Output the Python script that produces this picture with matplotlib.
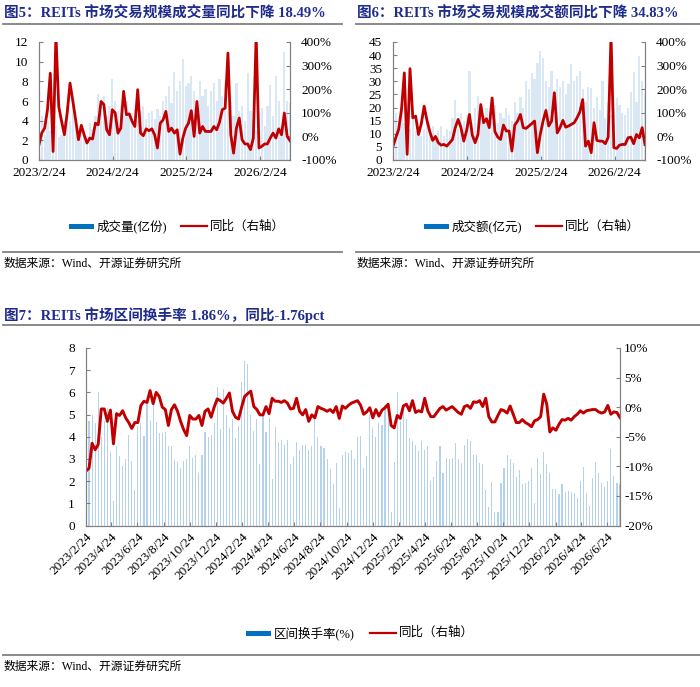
import numpy as np
import pandas as pd
import matplotlib
matplotlib.use("Agg")
import matplotlib.pyplot as plt
from matplotlib.lines import Line2D
from matplotlib.patches import Rectangle
from matplotlib.ticker import FuncFormatter

plt.rcParams['font.family'] = ['Liberation Serif', 'Noto Sans CJK SC']
plt.rcParams['axes.unicode_minus'] = False

# ---- 数据 ----
# 图5 成交量(亿份), 双周
vol_bar = [3.0, 4.5, 2.5, 4.0, 3.0, 2.0, 3.5, 2.3, 2.5, 4.0,
           5.5, 4.0, 6.0, 3.5, 2.5, 3.5, 3.0, 2.0, 3.8, 3.2,
           4.5, 6.7, 5.0, 6.5, 4.5, 5.5, 8.2, 6.0, 5.0, 5.5,
           4.5, 6.0, 5.0, 4.8, 5.2, 4.0, 5.0, 5.5, 4.2, 4.8,
           5.0, 4.2, 5.2, 4.5, 6.0, 6.5, 7.5, 5.8, 9.0, 7.0,
           8.0, 10.3, 7.5, 7.8, 8.5, 7.0, 6.0, 8.0, 6.5, 7.2,
           5.5, 7.0, 7.8, 6.0, 8.2, 6.5, 7.8, 5.0, 6.0, 4.5,
           7.8, 5.0, 5.5, 4.0, 8.8, 5.0, 4.2, 3.0, 4.8, 5.3,
           3.5, 5.5, 7.6, 4.5, 8.5, 6.0, 3.5, 11.0, 6.0, 5.8]
vol_yoy = [-35, 15, 35, 113, 268, -64, 430, 127, 64, 7,
           100, 226, 150, 70, -14, 47, 7, -28, -7, -11,
           56, 49, 148, 135, 28, 7, 113, 100, 14, 35,
           191, 92, 95, 64, 42, 198, 14, 3, 32, 24,
           32, 7, -49, 56, 70, 106, 21, 35, 14, 28,
           -75, -7, 35, 56, 109, 0, 148, 14, 42, 21,
           21, 21, 42, 28, 60, 113, 120, 353, 7, -71,
           35, 78, -14, -32, -32, -56, -7, 430, -49, -42,
           -32, -32, -7, 14, -7, 32, 7, 99, 0, -18.49]

# 图6 成交额(亿元), 双周
amt_bar = [15, 18, 12, 20, 14, 10, 12, 16, 11, 13,
           9, 12, 14, 10, 13, 8, 11, 13, 9, 12,
           11, 16, 23, 12, 18, 15, 17, 34, 14, 20,
           24.4, 18, 17, 20, 15, 19, 21, 14, 18, 16,
           20, 17, 15, 22, 18, 24, 20, 30, 27, 33,
           31, 37, 41.5, 39, 30, 28, 34, 26, 31, 28,
           30, 25, 29, 36.5, 30, 32, 34, 27, 22, 28,
           27.6, 20, 24, 19, 30, 16, 22, 17, 20, 23.7,
           21, 18, 17, 20, 26, 33.7, 22, 39.5, 30, 25]
amt_yoy = [-41, -5, 30, 114, 269, -76, 287, 79, 86, 8,
           54, 128, 68, 20, -17, 0, -27, -37, -34, -41,
           -27, -13, 37, 72, 37, -20, 25, 93, 6, -27,
           8, 135, 58, 75, 37, 163, 20, -3, -13, 48,
           23, 23, -62, 48, 65, 93, 37, 34, 44, 54,
           65, -69, 8, 65, 110, 44, 65, 185, 15, 37,
           68, 39, 44, 51, 58, 79, 104, 156, -41, -20,
           -69, 58, -17, -20, -20, -31, -3, 430, -48, -51,
           -37, -34, -34, -6, -3, -31, 8, -6, 37, -34.83]

# 图7 区间换手率(%), 周度
turn_bar = [5.2, 4.7, 5.0, 4.6, 6.0, 4.0, 4.7, 5.3, 3.3, 1.1,
            3.6, 3.15, 2.7, 3.0, 4.1, 2.9, 1.6, 4.5, 4.6, 4.05,
            5.6, 4.7, 5.7, 4.65, 4.15, 4.15, 4.2, 3.6, 3.6, 2.95,
            2.85, 2.6, 2.9, 3.0, 3.6, 3.05, 3.2, 2.35, 3.2, 4.2,
            4.0, 4.1, 4.6, 6.25, 4.35, 6.15, 5.0, 4.4, 4.8, 3.95,
            4.5, 6.45, 7.4, 7.3, 5.0, 4.25, 4.8, 2.75, 5.0, 4.2,
            4.85, 2.1, 4.45, 3.75, 3.85, 3.65, 3.85, 2.75, 3.1, 3.75,
            3.4, 3.65, 3.65, 3.4, 3.6, 4.85, 4.0, 3.6, 3.5, 3.0,
            2.55, 1.85, 2.8, 0.8,
            3.2, 3.3, 3.25, 3.4, 3.0, 4.0, 4.05, 2.6, 3.15, 5.0,
            4.4, 4.0, 4.6, 4.55, 5.45, 5.4, 0.6, 2.85, 6.0, 4.7,
            5.15, 4.8, 3.95, 3.8, 3.65, 3.35, 3.8, 3.4, 3.6, 2.0,
            2.2, 2.9, 3.6, 2.35, 3.05, 3.0, 3.05, 3.7, 3.0, 2.8,
            3.65, 3.9, 3.8, 3.2, 3.2, 2.8, 2.75, 1.6, 0.83, 1.95,
            0.63, 0.63, 1.9, 2.6, 3.2, 3.0, 2.8, 2.2, 2.5, 1.85,
            1.9, 2.0, 2.6, 1.0, 3.05, 2.3, 3.3, 2.75, 2.35, 1.65,
            1.65, 1.4, 1.85, 1.5, 1.55, 1.5, 1.45, 1.25, 2.0, 2.65,
            1.45, 0.86, 2.15, 2.85, 2.35, 1.9, 1.75, 2.0, 3.45, 2.25,
            1.9, 1.86]
turn_yoy = [-10.8, -10.3, -6.1, -7.2, -6.3, -0.3, -0.3, -2.4, -0.5, -6.2,
            -1.1, -1.4, -0.6, -1.8, -2.6, -3.6, -2.6, -2.6, 0.3, 1.0,
            0.8, 2.8, 0.6, 2.5, 1.8, 0.0, -0.4, -3.1, -0.4, 0.4,
            -0.7, -2.4, -3.8, -4.8, -1.4, -2.0, -2.0, -1.4, -3.1, -0.7,
            -0.3, -1.7, 0.0, 1.4, 1.1, 0.7, 1.5, 2.4, -0.7, -1.7,
            -2.0, 0.0, 1.8, 2.3, 2.7, 0.1, -0.4, -1.3, -1.3, 0.1,
            -1.1, 1.5, 1.0, 1.0, 0.8, 1.1, 0.7, -0.3, -0.2, 1.5,
            -0.7, -1.3, -0.4, -2.4, -1.3, -1.8, 0.1, -0.2, -0.4, -0.7,
            -0.4, -0.9,
            0.1, -1.9, 0.2, -0.2, 0.3, 0.7, 0.9, 1.1, 0.3, -1.2,
            -0.8, -0.1, -1.8, -0.4, -1.5, -0.5, -0.1, 0.5, -3.1, -3.5,
            -1.4, -1.9, 0.2, 0.5, -0.6, 1.1, -0.9, -0.6, -0.8, 1.5,
            -0.6, -1.6, -1.6, -0.9, -0.2, 0.1, -0.5, -0.2, 0.1,
            -0.4, -0.9, -1.2, 0.1, 0.3, -0.2, 0.9, 0.8, 1.1, 0.1,
            1.5, -1.6, -2.5, -2.5, -1.4, -0.4, -0.6, -1.0, 0.2, -1.2,
            -2.6, -2.6, -2.1, -2.6, -2.9, -3.3, -2.3, -2.1, -1.6, 2.2,
            0.5, -4.2, -3.5, -3.9, -2.9, -2.1, -2.2, -1.9, -2.2, -1.6,
            -1.2, -0.6, -1.0, -0.6, -0.5, -0.4, -0.4, -0.8, -1.0, -0.8,
            0.3, -1.2, -0.8, -0.9, -1.76]

start, end = '2023-02-24', '2026-07-24'
dates_top = pd.date_range(start, end, periods=len(vol_bar))
dates_turn = pd.date_range(start, end, periods=len(turn_bar))

year_ticks = pd.to_datetime(['2023-02-24', '2024-02-24', '2025-02-24', '2026-02-24'])
year_labels = ['2023/2/24', '2024/2/24', '2025/2/24', '2026/2/24']
month_ticks = [pd.Timestamp(2023, 2, 24) + pd.DateOffset(months=2 * k) for k in range(21)]
month_labels = [f'{d.year}/{d.month}/{d.day}' for d in month_ticks]

titles = ['图5：REITs 市场交易规模成交量同比下降 18.49%',
          '图6：REITs 市场交易规模成交额同比下降 34.83%',
          '图7：REITs 市场区间换手率 1.86%，同比-1.76pct']
source = '数据来源：Wind、开源证券研究所'

# ---- 样式 ----
navy = '#1F2C8C'
red = '#C00000'
blue = '#0070C0'
grey = '#808080'
W, H = 700, 687

fig = plt.figure(figsize=(7, 6.87), dpi=100)


def fx(x):
    return x / W


def fy(y):
    return 1 - y / H


def hline(x0, x1, y, lw=1.3):
    fig.add_artist(Line2D([fx(x0), fx(x1)], [fy(y), fy(y)], transform=fig.transFigure,
                          color=grey, lw=lw))


def legend(x, y, bar_label, x2):
    fig.add_artist(Rectangle((fx(x), fy(y + 2.5)), 25 / W, 5 / H, transform=fig.transFigure,
                             color=blue, lw=0))
    fig.text(fx(x + 28), fy(y), bar_label, fontsize=9, va='center', ha='left')
    fig.add_artist(Line2D([fx(x2), fx(x2 + 26)], [fy(y), fy(y)], transform=fig.transFigure,
                          color=red, lw=1.6))
    fig.text(fx(x2 + 29), fy(y), '同比（右轴）', fontsize=9, va='center', ha='left')


def style(ax, ax2):
    for a in (ax, ax2):
        a.spines['top'].set_visible(False)
        for s in ['left', 'right', 'bottom']:
            a.spines[s].set_color(grey)
            a.spines[s].set_linewidth(0.8)
        a.tick_params(direction='in', length=3, color=grey, labelsize=9.5, pad=8)
    ax.tick_params(axis='x', pad=5)
    ax2.yaxis.set_major_formatter(FuncFormatter(lambda v, p: f'{v:.0f}%'))


def top_panel(rect, bars, yoy, ymax, ystep, bar_label, x_leg, title, x0, x1):
    ax = fig.add_axes(rect)
    ax.bar(dates_top, bars, width=11, color='#DAE8F6', lw=0)
    ax.set_ylim(0, ymax)
    ax.set_yticks(np.arange(0, ymax + 0.1, ystep))
    ax.set_xlim(dates_top[0], dates_top[-1])
    ax.set_xticks(year_ticks)
    ax.set_xticklabels(year_labels)
    ax2 = ax.twinx()
    ax2.plot(dates_top, yoy, color=red, lw=2.0)
    ax2.set_ylim(-100, 400)
    ax2.set_yticks(range(-100, 401, 100))
    style(ax, ax2)
    fig.text(fx(x0 + 1), fy(14), title, fontsize=10.5, fontweight='bold', color=navy,
             va='center', ha='left')
    hline(x0, x1, 24)
    legend(x_leg, 226.5, bar_label, x_leg + 112)
    hline(x0, x1, 252)
    fig.text(fx(x0 + 1), fy(264), source, fontsize=8.5, va='center', ha='left')


top_panel([fx(39), fy(160), 251 / W, 118 / H], vol_bar, vol_yoy, 12, 2,
          '成交量(亿份)', 69, titles[0], 3, 342)
top_panel([fx(393), fy(160), 252 / W, 118 / H], amt_bar, amt_yoy, 45, 5,
          '成交额(亿元)', 424, titles[1], 356, 700)

# 图7
ax = fig.add_axes([fx(86), fy(525.5), 534 / W, 177.5 / H])
ax.bar(dates_turn, turn_bar, width=2.6, color='#B4D2EE', lw=0)
ax.set_ylim(0, 8)
ax.set_yticks(range(0, 9))
ax.set_xlim(dates_turn[0], dates_turn[-1])
ax.set_xticks(month_ticks)
ax.set_xticklabels(month_labels, rotation=45, ha='right', rotation_mode='anchor')
ax2 = ax.twinx()
ax2.plot(dates_turn, turn_yoy, color=red, lw=2.1)
ax2.set_ylim(-20, 10)
ax2.set_yticks(range(-20, 11, 5))
style(ax, ax2)
ax2.tick_params(axis='y', pad=3)
ax.tick_params(axis='x', pad=4)

fig.text(fx(4), fy(315), titles[2], fontsize=10.5, fontweight='bold', color=navy,
         va='center', ha='left')
hline(3, 700, 325)
legend(246, 633, '区间换手率(%)', 370)
hline(3, 700, 655)
fig.text(fx(4), fy(667), source, fontsize=8.5, va='center', ha='left')

fig.savefig('out.png', dpi=100)
